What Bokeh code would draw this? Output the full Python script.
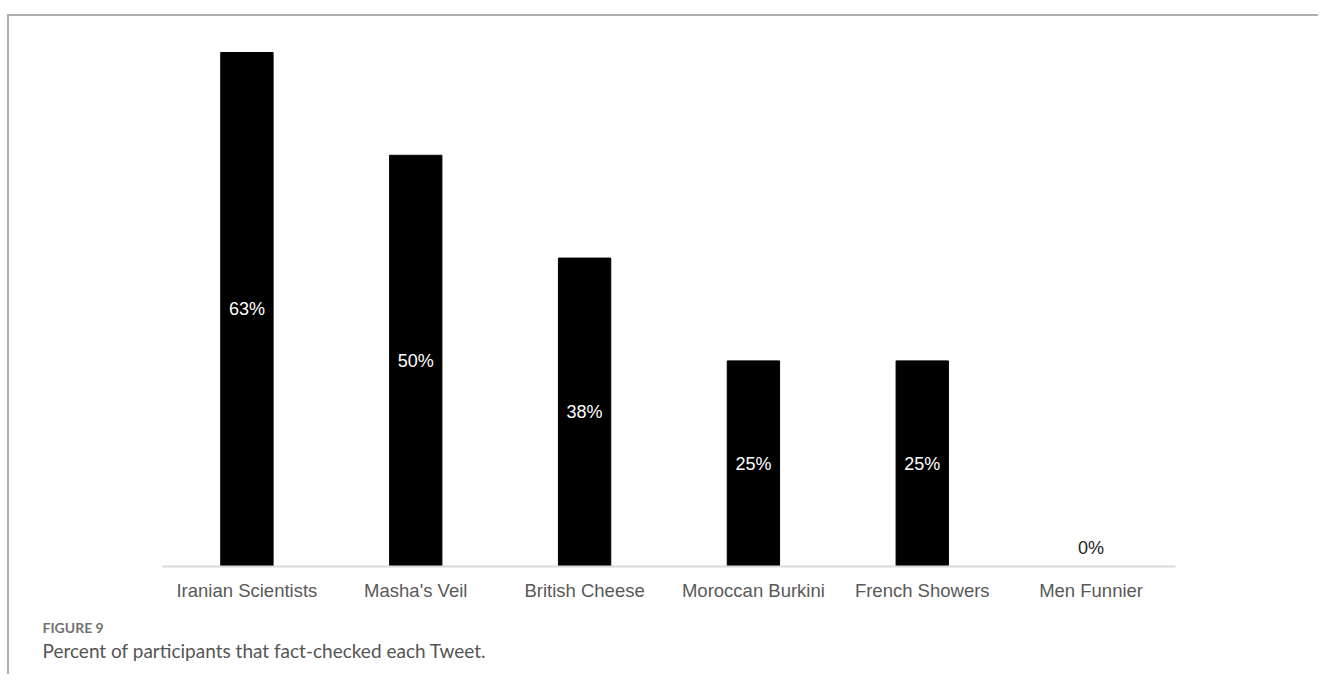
from bokeh.plotting import figure
from bokeh.models import ColumnDataSource, Range1d, FactorRange, Title
from bokeh.core.properties import value
from bokeh.embed import file_html
from bokeh.resources import INLINE

categories = ["Iranian Scientists", "Masha's Veil", "British Cheese",
              "Moroccan Burkini", "French Showers", "Men Funnier"]
percent = [62.5, 50.0, 37.5, 25.0, 25.0, 0.0]
labels = ["63%", "50%", "38%", "25%", "25%", "0%"]
fig_label = "FIGURE 9"
caption = "Percent of participants that fact-checked each Tweet."

W, H = 1311, 660
p = figure(x_range=FactorRange(*categories, range_padding=0),
           y_range=Range1d(0, 65.05),
           width=W, height=H, output_backend="svg", toolbar_location=None,
           min_border_left=153, min_border_right=145,
           min_border_top=15, min_border_bottom=110)
p.styles = {"border-top": "2px solid #adadad",
            "border-left": "2px solid #adadad",
            "margin-left": "7px", "margin-top": "14px"}
p.outline_line_color = None
p.xgrid.grid_line_color = None
p.ygrid.grid_line_color = None
p.yaxis.visible = False

src = ColumnDataSource(dict(
    cat=categories, val=percent, lab=labels,
    ly=[v / 2 if v > 0 else 0 for v in percent],
    off=[0 if v > 0 else -19 for v in percent],
    col=["white" if v > 0 else "#222222" for v in percent],
))
p.vbar(x="cat", top="val", width=0.31, source=src, fill_color="black",
       line_color="black")
p.text(x="cat", y="ly", text="lab", y_offset="off", source=src,
       text_color="col", text_align="center", text_baseline="middle",
       text_font=value("Liberation Sans"), text_font_size="18px")

ax = p.xaxis[0]
ax.axis_line_color = "#d9d9d9"
ax.axis_line_width = 2
ax.major_tick_line_color = None
ax.minor_tick_line_color = None
ax.major_label_text_font = "Liberation Sans"
ax.major_label_text_font_size = "18.5px"
ax.major_label_text_color = "#595959"
ax.major_label_standoff = 7

t1 = Title(text=fig_label, align="left", offset=-120, standoff=26,
           text_font="Lato", text_font_size="14px", text_font_style="bold",
           text_color="#737373")
t2 = Title(text=caption, align="left", offset=-120, standoff=-26,
           text_font="Lato", text_font_size="19px", text_font_style="normal",
           text_color="#555555")
p.add_layout(t1, "below")
p.add_layout(t2, "below")

open("out.html", "w").write(file_html(p, INLINE))
